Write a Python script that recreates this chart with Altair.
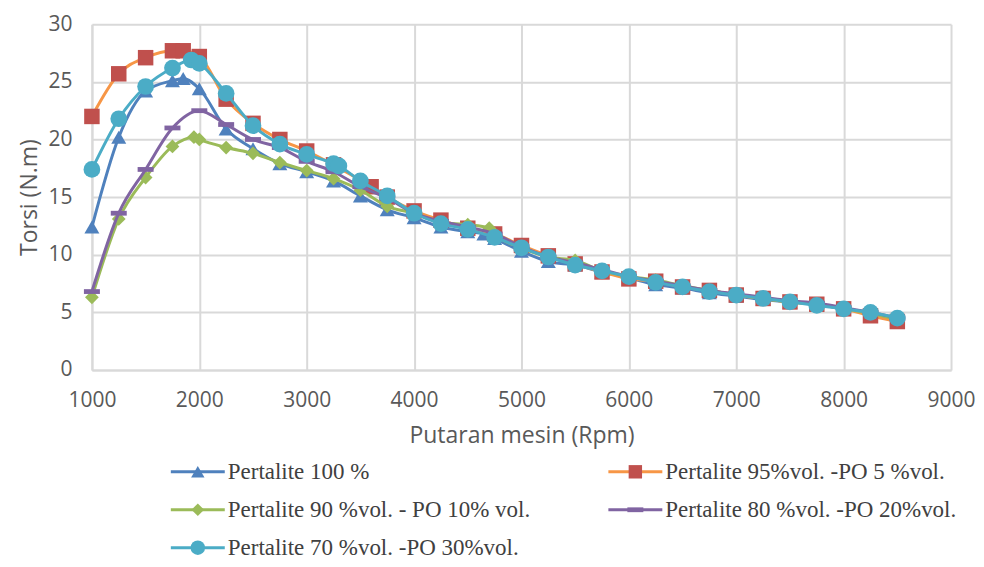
import altair as alt
import pandas as pd

# ---------------- data ----------------
series_names = [
    "Pertalite 100 %",
    "Pertalite 95%vol. -PO 5 %vol.",
    "Pertalite 90 %vol. - PO 10% vol.",
    "Pertalite 80 %vol. -PO 20%vol.",
    "Pertalite 70 %vol. -PO 30%vol.",
]

rpm_p100 = [1000, 1250, 1500, 1750, 1850, 2000, 2250, 2500, 2750, 3000, 3250, 3500, 3750, 4000, 4250, 4500, 4650, 4750,
            5000, 5250, 5500, 5750, 6000, 6250, 6500, 6750, 7000, 7250, 7500, 7750, 8000, 8250, 8500]
torsi_p100 = [12.4, 20.2, 24.2, 25.1, 25.3, 24.4, 20.9, 19.2, 17.9, 17.2, 16.4, 15.1, 13.9, 13.2, 12.4, 12.0, 11.8, 11.4,
              10.3, 9.4, 9.1, 8.5, 8.0, 7.4, 7.1, 6.7, 6.4, 6.1, 5.9, 5.7, 5.3, 4.9, 4.4]

rpm_po5 = [1000, 1250, 1500, 1750, 1850, 2000, 2250, 2500, 2750, 3000, 3250, 3600, 3750, 4000, 4250, 4500, 4750,
           5000, 5250, 5500, 5750, 6000, 6250, 6500, 6750, 7000, 7250, 7500, 7750, 8000, 8250, 8500]
torsi_po5 = [22.0, 25.7, 27.1, 27.7, 27.7, 27.2, 23.5, 21.4, 20.0, 19.0, 17.8, 15.9, 15.0, 13.8, 13.0, 12.3, 11.8,
             10.8, 9.9, 9.2, 8.5, 7.9, 7.7, 7.2, 6.9, 6.5, 6.2, 5.9, 5.7, 5.3, 4.7, 4.2]

rpm_po10 = [1000, 1250, 1500, 1750, 1950, 2000, 2250, 2500, 2750, 3000, 3250, 3500, 3750, 4000, 4250, 4500, 4700, 4750,
            5000, 5250, 5500, 5750, 6000, 6250, 6500, 6750, 7000, 7250, 7500, 7750, 8000, 8250, 8500]
torsi_po10 = [6.3, 13.1, 16.7, 19.4, 20.2, 20.0, 19.3, 18.8, 18.0, 17.3, 16.6, 15.6, 14.2, 13.6, 12.8, 12.6, 12.3, 11.8,
              10.6, 9.8, 9.5, 8.6, 8.1, 7.8, 7.3, 6.9, 6.5, 6.2, 5.9, 5.7, 5.3, 4.9, 4.4]

rpm_po20 = [1000, 1250, 1500, 1750, 2000, 2250, 2500, 2750, 3000, 3250, 3500, 3750, 4000, 4250, 4500, 4750,
            5000, 5250, 5500, 5750, 6000, 6250, 6500, 6750, 7000, 7250, 7500, 7750, 8000, 8250, 8500]
torsi_po20 = [6.8, 13.6, 17.4, 21.0, 22.5, 21.3, 20.0, 19.3, 18.1, 17.2, 15.9, 14.9, 13.6, 12.9, 12.4, 11.8,
              10.7, 9.8, 9.3, 8.7, 8.1, 7.7, 7.3, 6.9, 6.6, 6.3, 6.0, 5.8, 5.4, 5.0, 4.5]

rpm_po30 = [1000, 1250, 1500, 1750, 1925, 2000, 2250, 2500, 2750, 3000, 3250, 3300, 3500, 3750, 4000, 4250, 4500, 4750,
            5000, 5250, 5500, 5750, 6000, 6250, 6500, 6750, 7000, 7250, 7500, 7750, 8000, 8250, 8500]
torsi_po30 = [17.4, 21.8, 24.6, 26.2, 26.9, 26.6, 24.0, 21.2, 19.6, 18.7, 17.9, 17.7, 16.4, 15.1, 13.6, 12.7, 12.2, 11.5,
              10.6, 9.8, 9.1, 8.6, 8.1, 7.6, 7.2, 6.8, 6.5, 6.2, 5.9, 5.6, 5.3, 5.0, 4.5]

x_ticks = [1000, 2000, 3000, 4000, 5000, 6000, 7000, 8000, 9000]
y_ticks = [0, 5, 10, 15, 20, 25, 30]

all_rpm = [rpm_p100, rpm_po5, rpm_po10, rpm_po20, rpm_po30]
all_torsi = [torsi_p100, torsi_po5, torsi_po10, torsi_po20, torsi_po30]

# ---------------- styles ----------------
line_colors = ["#4F81BD", "#F79646", "#9BBB59", "#8064A2", "#4BACC6"]
marker_colors = ["#4F81BD", "#C0504D", "#9BBB59", "#8064A2", "#4BACC6"]
marker_shapes = ["triangle-up", "square", "diamond", "M-1,-0.3L1,-0.3L1,0.3L-1,0.3Z", "circle"]
marker_sizes = [225, 240, 190, 256, 280]
legend_sizes = [180, 180, 160, 256, 210]

AXIS_FONT = "Open Sans"
GRID = "#D9D9D9"
TXT = "#595959"

W, H = 860, 346

x_scale = alt.Scale(domain=[1000, 9000], nice=False)
y_scale = alt.Scale(domain=[0, 30], nice=False)

x_axis = alt.Axis(
    title="Putaran mesin (Rpm)", values=x_ticks, format="d", grid=True, gridColor=GRID, gridWidth=2,
    domainColor=GRID, domainWidth=2, ticks=False, tickSize=0, labelFlush=False, labelFont=AXIS_FONT,
    labelFontSize=21, labelColor=TXT, labelPadding=20, titleFont=AXIS_FONT, titleFontSize=23,
    titleFontWeight="normal", titleColor=TXT, titlePadding=14,
)
y_axis = alt.Axis(
    title="Torsi (N.m)", values=y_ticks, grid=True, gridColor=GRID, gridWidth=2,
    domainColor=GRID, domainWidth=2, ticks=False, tickSize=0, labelFlush=False, labelFont=AXIS_FONT,
    labelFontSize=21, labelColor=TXT, labelPadding=20, titleFont=AXIS_FONT, titleFontSize=23,
    titleFontWeight="normal", titleColor=TXT, titlePadding=6,
)

layers = []
for i in range(5):
    df = pd.DataFrame({"rpm": all_rpm[i], "torsi": all_torsi[i]})
    enc = dict(
        x=alt.X("rpm:Q", scale=x_scale, axis=x_axis),
        y=alt.Y("torsi:Q", scale=y_scale, axis=y_axis),
    )
    line = alt.Chart(df).mark_line(
        color=line_colors[i], strokeWidth=3, interpolate="monotone"
    ).encode(**enc)
    pts = alt.Chart(df).mark_point(
        shape=marker_shapes[i], filled=True, fill=marker_colors[i], opacity=1,
        size=marker_sizes[i], strokeWidth=0,
    ).encode(**enc)
    layers += [line, pts]

main = alt.layer(*layers).properties(width=W, height=H)

# ---------------- legend panel ----------------
LEG_FONT = "Liberation Serif"
leg_x = alt.Scale(domain=[0, 1], range=[106, 544])
leg_y = alt.Scale(domain=[0, 2], range=[14, 90])
leg_layers = []
for i, name in enumerate(series_names):
    d = pd.DataFrame({"col": [i % 2], "row": [i // 2], "name": [name]})
    ex = alt.X("col:Q", scale=leg_x, axis=None)
    ey = alt.Y("row:Q", scale=leg_y, axis=None)
    rule = alt.Chart(d).mark_rule(
        color=line_colors[i], strokeWidth=3, xOffset=-27, x2Offset=27
    ).encode(x=ex, x2="col:Q", y=ey)
    mk = alt.Chart(d).mark_point(
        shape=marker_shapes[i], filled=True, fill=marker_colors[i], opacity=1,
        size=legend_sizes[i], strokeWidth=0,
    ).encode(x=ex, y=ey)
    tx = alt.Chart(d).mark_text(
        align="left", baseline="middle", dx=30, font=LEG_FONT, fontSize=23, color="#404040"
    ).encode(x=ex, y=ey, text="name:N")
    leg_layers += [rule, mk, tx]

legend = alt.layer(*leg_layers).properties(width=W, height=92)

chart = alt.vconcat(main, legend, spacing=10).properties(
    padding={"left": 10, "top": 5, "right": 0, "bottom": 0},
    background="white",
).configure_view(stroke=None)

chart.save("out.html", embed_options={"renderer": "svg", "actions": False})
